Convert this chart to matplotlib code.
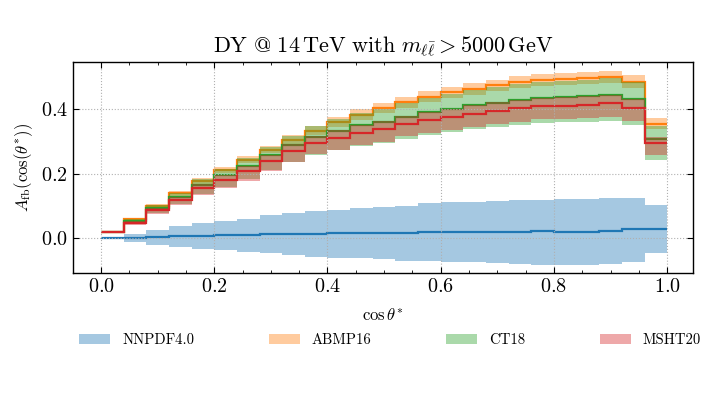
import numpy as np
import matplotlib
matplotlib.use("Agg")
import matplotlib.pyplot as plt
from matplotlib.patches import Patch
from matplotlib.ticker import MultipleLocator

plt.rcParams['font.family'] = ['cmr10', 'DejaVu Serif']
plt.rcParams['mathtext.fontset'] = 'cm'
plt.rcParams['axes.formatter.use_mathtext'] = True

# bin edges in cos(theta*)
edges = np.linspace(0.0, 1.0, 26)

# NNPDF4.0
nnpdf = [0.0, 0.0, 0.001, 0.005, 0.006, 0.008, 0.009, 0.012, 0.012, 0.013, 0.015, 0.015, 0.016,
         0.016, 0.019, 0.019, 0.017, 0.017, 0.019, 0.020, 0.019, 0.019, 0.021, 0.026, 0.027]
nnpdf_hi = [0.003, 0.013, 0.024, 0.036, 0.045, 0.052, 0.060, 0.070, 0.078, 0.082, 0.088, 0.094, 0.097,
            0.098, 0.107, 0.110, 0.112, 0.115, 0.117, 0.119, 0.120, 0.122, 0.124, 0.125, 0.102]
nnpdf_lo = [-0.003, -0.013, -0.023, -0.030, -0.035, -0.038, -0.043, -0.049, -0.054, -0.059, -0.062, -0.064, -0.066,
            -0.071, -0.071, -0.074, -0.077, -0.080, -0.082, -0.084, -0.085, -0.085, -0.083, -0.074, -0.049]

# ABMP16
abmp = [0.018, 0.057, 0.099, 0.138, 0.177, 0.211, 0.243, 0.275, 0.306, 0.334, 0.360, 0.384, 0.404,
        0.423, 0.439, 0.453, 0.463, 0.475, 0.485, 0.493, 0.494, 0.497, 0.501, 0.486, 0.356]
abmp_err = [0.002, 0.004, 0.006, 0.007, 0.009, 0.010, 0.011, 0.012, 0.013, 0.014, 0.015, 0.016, 0.016,
            0.017, 0.017, 0.018, 0.018, 0.018, 0.019, 0.019, 0.019, 0.019, 0.020, 0.020, 0.018]

# CT18
ct18 = [0.018, 0.052, 0.093, 0.128, 0.166, 0.195, 0.225, 0.257, 0.288, 0.314, 0.334, 0.350, 0.362,
        0.377, 0.391, 0.402, 0.413, 0.421, 0.429, 0.435, 0.438, 0.441, 0.445, 0.433, 0.307]
ct18_up = [0.002, 0.005, 0.009, 0.013, 0.017, 0.020, 0.023, 0.027, 0.030, 0.033, 0.036, 0.038, 0.040,
           0.042, 0.044, 0.046, 0.048, 0.050, 0.050, 0.051, 0.052, 0.052, 0.053, 0.052, 0.040]
ct18_dn = [0.003, 0.009, 0.016, 0.023, 0.030, 0.036, 0.042, 0.047, 0.052, 0.056, 0.060, 0.063, 0.066,
           0.068, 0.070, 0.072, 0.074, 0.075, 0.076, 0.077, 0.078, 0.079, 0.081, 0.080, 0.065]

# MSHT20
msht = [0.017, 0.047, 0.086, 0.118, 0.155, 0.180, 0.207, 0.240, 0.272, 0.296, 0.312, 0.328, 0.338,
        0.355, 0.366, 0.376, 0.386, 0.396, 0.403, 0.410, 0.412, 0.415, 0.419, 0.405, 0.294]
msht_up = [0.002, 0.004, 0.007, 0.010, 0.013, 0.015, 0.017, 0.019, 0.021, 0.022, 0.023, 0.024, 0.025,
           0.025, 0.026, 0.026, 0.027, 0.027, 0.027, 0.027, 0.027, 0.027, 0.027, 0.027, 0.020]
msht_dn = [0.002, 0.006, 0.011, 0.016, 0.021, 0.025, 0.029, 0.032, 0.035, 0.036, 0.037, 0.038, 0.039,
           0.039, 0.040, 0.040, 0.041, 0.041, 0.041, 0.041, 0.041, 0.042, 0.042, 0.042, 0.036]

labels = ["NNPDF4.0", "ABMP16", "CT18", "MSHT20"]
colors = ["tab:blue", "tab:orange", "tab:green", "tab:red"]

central = [np.array(nnpdf), np.array(abmp), np.array(ct18), np.array(msht)]
upper = [np.array(nnpdf_hi), np.array(abmp) + np.array(abmp_err),
         np.array(ct18) + np.array(ct18_up), np.array(msht) + np.array(msht_up)]
lower = [np.array(nnpdf_lo), np.array(abmp) - np.array(abmp_err),
         np.array(ct18) - np.array(ct18_dn), np.array(msht) - np.array(msht_dn)]

fig = plt.figure(figsize=(7.2, 4.05), dpi=100)
ax = fig.add_axes([0.101, 0.325, 0.861, 0.522])

for c, hi, lo, col in zip(central, upper, lower, colors):
    ax.stairs(hi, edges, baseline=lo, fill=True, color=col, alpha=0.4, lw=0)
    ax.stairs(c, edges, baseline=None, color=col, lw=1.6)

ax.set_xlim(-0.05, 1.045)
ax.set_ylim(-0.111, 0.548)
ax.xaxis.set_major_locator(MultipleLocator(0.2))
ax.xaxis.set_minor_locator(MultipleLocator(0.05))
ax.yaxis.set_major_locator(MultipleLocator(0.2))
ax.tick_params(which='both', direction='in', top=True, right=True, labelsize=14.5)
ax.tick_params(which='major', length=4)
ax.tick_params(which='minor', length=2.5)
ax.tick_params(axis='y', which='minor', left=False, right=False)
ax.grid(True, which='major', ls=':', color='#b0b0b0', lw=0.8)
for s in ax.spines.values():
    s.set_linewidth(1.0)

ax.set_title(r"$\mathrm{DY\ @\ 14\,TeV\ with\ }m_{\ell\bar{\ell}} > 5000\,\mathrm{GeV}$", fontsize=16, pad=7)
ax.set_xlabel(r"$\cos\theta^{*}$", fontsize=12, labelpad=8)
ax.set_ylabel(r"$A_{\rm fb}(\cos(\theta^{*}))$", fontsize=12)

handles = [Patch(facecolor=col, alpha=0.4, edgecolor='none') for col in colors]
fig.legend(handles, labels, loc='center', ncol=4, mode='expand', frameon=False,
           bbox_to_anchor=(0.092, 0.115, 0.9, 0.09), fontsize=10.6,
           handlelength=2.1, handleheight=0.75)

fig.savefig("out.png", dpi=100)
